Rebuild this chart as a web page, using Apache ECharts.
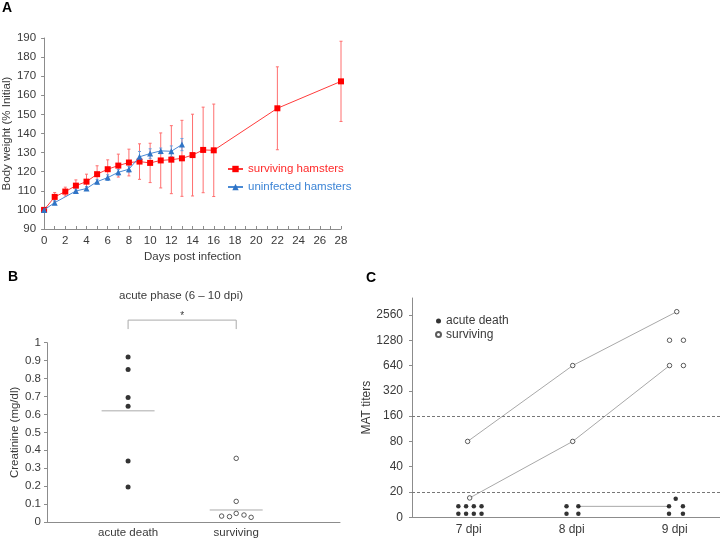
<!DOCTYPE html>
<html><head><meta charset="utf-8">
<script src="https://cdn.jsdelivr.net/npm/echarts@6/dist/echarts.min.js"></script>
<style>html,body{margin:0;padding:0;background:#fff}#c{width:720px;height:539px}</style>
</head><body><div id="c"></div>
<script>
// ---------- Panel A: body weight ----------
const survDays   = [0,1,2,3,4,5,6,7,8,9,10,11,12,13,14,15,16,22,28];
const survMean   = [100,106.8,109.6,112.7,114.8,118.7,121.3,123.2,124.8,125.3,124.6,125.9,126.3,127,128.7,131.4,131.2,153.2,167.3];
const survSD     = [0.5,2.3,2.3,3,3.9,4.4,4.9,6,7,9.3,10.3,14.4,17.8,19.9,21.4,22.4,24.2,21.7,21];
const uninfDays  = [0,1,3,4,5,6,7,8,9,10,11,12,13];
const uninfMean  = [100,103.8,109.9,111.2,114.8,116.9,119.7,121.3,127.8,129.5,130.9,130.7,134.2];
const uninfSD    = [0.5,1,1,1,1.2,1.5,1.5,1.5,2.8,2.5,1.5,2.8,3.2];

// ---------- Panel B: creatinine ----------
const creatGroups   = ['acute death','surviving'];
const creatAcute    = [0.92,0.85,0.695,0.645,0.34,0.195];
const creatSurv     = [0.355,0.115,0.033,0.03,0.048,0.039,0.026];
const creatSurvJit  = [0,0,-0.135,-0.062,0,0.072,0.138];
const creatMean     = [0.62,0.067];

// ---------- Panel C: MAT titers ----------
const matDays      = ['7 dpi','8 dpi','9 dpi'];
const matTicks     = ['0','20','40','80','160','320','640','1280','2560'];
const matSurvDay   = [6.99,7.01,8.01,8.01,9.02,8.95,9.085,8.95,9.085];
const matSurvTiter = [80,17,640,80,2800,1280,1280,640,640];
const matDeathDay  = [6.9,6.975,7.05,7.125,6.9,6.975,7.05,7.125,7.95,8.065,7.95,8.065,8.945,9.08,8.945,9.08,9.01];
const matDeathTiter= [13.5,13.5,13.5,13.5,11,11,11,11,13.5,13.5,11,11,13.5,13.5,11,11,16.6];
const matLinks     = [[[6.99,80],[8.01,640],[9.02,2800]],[[7.01,17],[8.01,80],[8.95,640]],[[8.065,13.5],[8.945,13.5]]];
const matCutoffs   = [20,160];

const FONT = 'Liberation Sans, Arial, sans-serif';
const TXT = '#3a3a3a';
const AX = '#8c8c8c';
const lvl = v => Math.log2(v/10);

function errRender(color){
  return function(params, api){
    const x = api.value(0), y = api.value(1), e = api.value(2);
    const t = api.coord([x, y+e]), b = api.coord([x, y-e]);
    const hw = 1.5, st = {stroke: color, lineWidth: 1};
    return {type:'group', children:[
      {type:'line', shape:{x1:t[0],y1:t[1],x2:b[0],y2:b[1]}, style:st},
      {type:'line', shape:{x1:t[0]-hw,y1:t[1],x2:t[0]+hw,y2:t[1]}, style:st},
      {type:'line', shape:{x1:b[0]-hw,y1:b[1],x2:b[0]+hw,y2:b[1]}, style:st}
    ]};
  };
}

const groupX = [0.75, 1.75];

const chart = echarts.init(document.getElementById('c'), null, {renderer:'canvas'});
chart.setOption({
  animation:false,
  textStyle:{fontFamily:FONT},
  graphic:[
    {type:'text', left:2, top:1, style:{text:'A', font:'bold 14px '+FONT, fill:'#000'}},
    {type:'text', left:8, top:270, style:{text:'B', font:'bold 14px '+FONT, fill:'#000'}},
    {type:'text', left:366, top:271, style:{text:'C', font:'bold 14px '+FONT, fill:'#000'}},
    {type:'text', x:181, y:296, style:{text:'acute phase (6 – 10 dpi)', font:'11.5px '+FONT, fill:TXT, align:'center', verticalAlign:'middle'}}
  ],
  legend:[
    {left:222, top:158, orient:'vertical', itemWidth:15, itemHeight:8, itemGap:6,
     textStyle:{fontSize:11.5, fontFamily:FONT}, 
     data:[{name:'surviving hamsters', textStyle:{color:'#ff2a2a'}},{name:'uninfected hamsters', textStyle:{color:'#3d85d6'}}]},
    {left:430, top:310, orient:'vertical', itemWidth:5, itemHeight:5, itemGap:1.5,
     textStyle:{fontSize:12, color:TXT, fontFamily:FONT}, data:['acute death','surviving']}
  ],
  grid:[
    {left:42, top:38, width:299, height:191},
    {left:47, top:342.7, width:293, height:179.6},
    {left:412, top:298, width:308, height:219.3}
  ],
  xAxis:[
    {gridIndex:0, type:'value', min:0, max:28, interval:1,
     name:'Days post infection', nameLocation:'middle', nameGap:22,
     nameTextStyle:{fontSize:11.5, color:TXT},
     axisLine:{lineStyle:{color:AX}}, axisTick:{inside:true, length:3, lineStyle:{color:AX}},
     axisLabel:{fontSize:11.5, color:TXT, margin:6, formatter:v=> v%2===0 ? String(v) : ''},
     splitLine:{show:false}},
    {gridIndex:1, type:'value', min:0, max:2.71,
     axisLine:{lineStyle:{color:AX}}, axisTick:{show:false},
     axisLabel:{fontSize:11.5, color:TXT, margin:5, customValues:groupX,
       formatter:v=>{const i=groupX.findIndex(g=>Math.abs(g-v)<1e-6); return i>=0?creatGroups[i]:'';}},
     splitLine:{show:false}},
    {gridIndex:2, type:'value', min:6.45, max:9.44,
     axisLine:{lineStyle:{color:AX}}, axisTick:{show:false},
     axisLabel:{fontSize:12, color:TXT, margin:6, customValues:[7,8,9],
       formatter:v=>matDays[Math.round(v)-7]},
     splitLine:{show:false}}
  ],
  yAxis:[
    {gridIndex:0, type:'value', min:90, max:190, interval:10,
     name:'Body weight (% Initial)', nameLocation:'middle', nameGap:30,
     nameTextStyle:{fontSize:11.5, color:TXT},
     axisLine:{show:true, lineStyle:{color:AX}}, axisTick:{show:true, length:3, lineStyle:{color:AX}},
     axisLabel:{fontSize:11.5, color:TXT, margin:8}, splitLine:{show:false}},
    {gridIndex:1, type:'value', min:0, max:1, interval:0.1,
     name:'Creatinine (mg/dl)', nameLocation:'middle', nameGap:26,
     nameTextStyle:{fontSize:11.5, color:TXT},
     axisLine:{show:true, lineStyle:{color:AX}}, axisTick:{show:true, length:3, lineStyle:{color:AX}},
     axisLabel:{fontSize:11.5, color:TXT, margin:6, formatter:v=>String(Math.round(v*10)/10)}, splitLine:{show:false}},
    {gridIndex:2, type:'value', min:0, max:8.67,
     name:'MAT titers', nameLocation:'middle', nameGap:35,
     nameTextStyle:{fontSize:12, color:TXT},
     axisLine:{show:true, lineStyle:{color:AX}},
     axisTick:{show:true, length:3, customValues:[0,1,2,3,4,5,6,7,8], lineStyle:{color:AX}},
     axisLabel:{fontSize:12, color:TXT, margin:9, customValues:[0,1,2,3,4,5,6,7,8],
       formatter:v=>matTicks[Math.round(v)]}, splitLine:{show:false}}
  ],
  series:[
    // Panel A
    {type:'custom', xAxisIndex:0, yAxisIndex:0, z:1, renderItem:errRender('#ff6f6f'),
     data:survDays.map((d,i)=>[d,survMean[i],survSD[i]])},
    {type:'custom', xAxisIndex:0, yAxisIndex:0, z:1, renderItem:errRender('#6d9fdc'),
     data:uninfDays.map((d,i)=>[d,uninfMean[i],uninfSD[i]])},
    {name:'uninfected hamsters', type:'line', xAxisIndex:0, yAxisIndex:0, z:3,
     symbol:'triangle', symbolSize:6, lineStyle:{color:'#4a8ad4', width:1}, itemStyle:{color:'#2f74c6'},
     data:uninfDays.map((d,i)=>[d,uninfMean[i]])},
    {name:'surviving hamsters', type:'line', xAxisIndex:0, yAxisIndex:0, z:2,
     symbol:'rect', symbolSize:6, lineStyle:{color:'#ff3b3b', width:1}, itemStyle:{color:'#ff0000'},
     data:survDays.map((d,i)=>[d,survMean[i]])},
    // Panel B
    {name:'B acute', type:'scatter', xAxisIndex:1, yAxisIndex:1, symbol:'circle', symbolSize:5,
     itemStyle:{color:'#000'}, data:creatAcute.map(v=>[groupX[0],v])},
    {name:'B surv', type:'scatter', xAxisIndex:1, yAxisIndex:1, symbol:'circle', symbolSize:4.5,
     itemStyle:{color:'#fff', borderColor:'#333', borderWidth:1}, data:creatSurv.map((v,i)=>[groupX[1]+creatSurvJit[i],v])},
    {type:'custom', xAxisIndex:1, yAxisIndex:1, z:1,
     renderItem:(p,api)=>{const a=api.coord([api.value(0)-0.245,api.value(1)]), b=api.coord([api.value(0)+0.245,api.value(1)]);
       return {type:'line', shape:{x1:a[0],y1:a[1],x2:b[0],y2:b[1]}, style:{stroke:'#aaa', lineWidth:1}};},
     data:creatMean.map((m,i)=>[groupX[i],m])},
    {type:'custom', xAxisIndex:1, yAxisIndex:1, clip:false,
     renderItem:(p,api)=>{const l=api.coord([groupX[0],1.126]), r=api.coord([groupX[1],1.126]), lb=api.coord([groupX[0],1.076]), rb=api.coord([groupX[1],1.076]);
       const m=api.coord([(groupX[0]+groupX[1])/2,1.15]);
       return {type:'group', children:[
         {type:'polyline', shape:{points:[[lb[0],lb[1]],[l[0],l[1]],[r[0],r[1]],[rb[0],rb[1]]]}, style:{stroke:'#aaa',lineWidth:1,fill:null}},
         {type:'text', x:m[0], y:m[1], style:{text:'*', font:'10px '+FONT, fill:TXT, align:'center', verticalAlign:'middle'}}
       ]};},
     data:[[0]]},
    // Panel C
    ...matLinks.map(link=>({type:'line', xAxisIndex:2, yAxisIndex:2, symbol:'none', z:1,
      lineStyle:{color:'#a8a8a8', width:1}, data:link.map(p=>[p[0],lvl(p[1])])})),
    {name:'acute death', type:'scatter', xAxisIndex:2, yAxisIndex:2, symbol:'circle', symbolSize:4.5, z:3,
     itemStyle:{color:'#000'}, data:matDeathDay.map((d,i)=>[d,lvl(matDeathTiter[i])]),
     markLine:{silent:true, symbol:'none', label:{show:false},
       lineStyle:{color:'#777', type:[3,2], width:1}, data:matCutoffs.map(c=>({yAxis:lvl(c)}))}},
    {name:'surviving', type:'scatter', xAxisIndex:2, yAxisIndex:2, symbol:'circle', symbolSize:4.5, z:3,
     itemStyle:{color:'#fff', borderColor:'#333', borderWidth:1}, data:matSurvDay.map((d,i)=>[d,lvl(matSurvTiter[i])])}
  ]
});
</script></body></html>
